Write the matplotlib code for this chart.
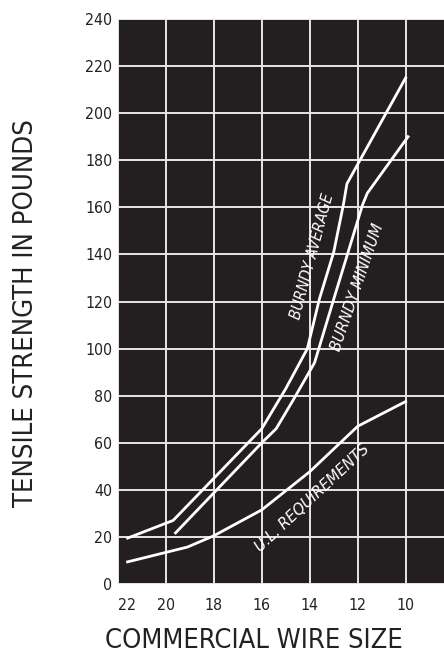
import numpy as np
import matplotlib
matplotlib.use("Agg")
import matplotlib.pyplot as plt
from matplotlib import font_manager as fm

# pick a narrow face if one is installed, else Liberation Sans
narrow = [f for f in fm.fontManager.ttflist
          if f.stretch in ('condensed', 'semi-condensed', 'extra-condensed')
          or 'Narrow' in f.name or 'Condensed' in f.name]
if narrow:
    FAMILY = narrow[0].name
    STRETCH = narrow[0].stretch
else:
    FAMILY = 'Liberation Sans'
    STRETCH = 'normal'
plt.rcParams['font.family'] = [FAMILY, 'DejaVu Sans']
plt.rcParams['font.stretch'] = STRETCH

# wire sizes shown on the x axis
wire_sizes = [22, 20, 18, 16, 14, 12, 10]
y_ticks = list(range(0, 241, 20))

# curves (gauge, pounds)
avg_gauge = [21.6, 19.7, 16.0, 15.0, 14.1, 13.6, 13.0, 12.6, 12.45, 10.0]
avg_lbs = [19.5, 27, 66, 83, 100, 121, 141, 161, 170, 215]

min_gauge = [19.6, 16.0, 15.4, 14.7, 13.8, 13.0, 12.4, 11.8, 11.6, 9.9]
min_lbs = [21.7, 60, 66, 78, 94, 121, 141, 161, 166, 190]

ul_gauge = [21.6, 19.1, 18.0, 16.0, 14.0, 12.0, 10.0]
ul_lbs = [9.4, 15.7, 20.5, 31.5, 47.7, 67, 77.5]

fig = plt.figure(figsize=(4.44, 6.54), dpi=100)
renderer = fig.canvas.get_renderer()


def fit(t, target_px, rot=0):
    # scale font size so the unrotated text is target_px wide
    t.set_rotation(0)
    w = t.get_window_extent(renderer).width
    t.set_fontsize(t.get_fontsize() * target_px / w)
    t.set_rotation(rot)


ax = fig.add_axes([118/444, 70/654, 1 - 118/444, 565/654])
ax.set_facecolor('#231f20')

ax.set_xlim(22, 8.4)
ax.set_ylim(0, 240)
ax.set_xticks(wire_sizes)
ax.set_yticks(y_ticks)
ax.tick_params(length=0, labelsize=12, colors='#222222')
ax.tick_params(axis='x', pad=10)
ax.tick_params(axis='y', pad=4)
for s in ax.spines.values():
    s.set_visible(False)

ax.grid(True, color='#e6e6e6', lw=1.4)
ax.set_axisbelow(True)

ax.plot(avg_gauge, avg_lbs, color='white', lw=2)
ax.plot(min_gauge, min_lbs, color='white', lw=2)
ax.plot(ul_gauge, ul_lbs, color='white', lw=2)

t1 = ax.text(13.9, 139, 'BURNDY AVERAGE', color='white', fontsize=9,
             style='italic', ha='center', va='center', rotation_mode='anchor')
t2 = ax.text(12.0, 126, 'BURNDY MINIMUM', color='white', fontsize=9,
             style='italic', ha='center', va='center', rotation_mode='anchor')
t3 = ax.text(13.9, 36.6, 'U.L. REQUIREMENTS', color='white', fontsize=9,
             style='italic', ha='center', va='center', rotation_mode='anchor')
fit(t1, 130, 75)
fit(t2, 134, 71)
fit(t3, 151, 43)

yl = fig.text(26/444, 1 - 313/654, 'TENSILE STRENGTH IN POUNDS',
              fontsize=21, ha='center', va='center', color='#222222')
xl = fig.text(254/444, 1 - 641/654, 'COMMERCIAL WIRE SIZE',
              fontsize=21, ha='center', va='center', color='#222222')
fit(yl, 390, 90)
fit(xl, 298)

# tick labels: "240" is about 27 px wide in the reference
fig.canvas.draw()
lab = [l for l in ax.get_yticklabels() if l.get_text() == '240'][0]
size = 12 * 27 / lab.get_window_extent(renderer).width
ax.tick_params(labelsize=size)
ax.get_xticklabels()[0].set_horizontalalignment('left')

fig.savefig('out.png', dpi=100)
